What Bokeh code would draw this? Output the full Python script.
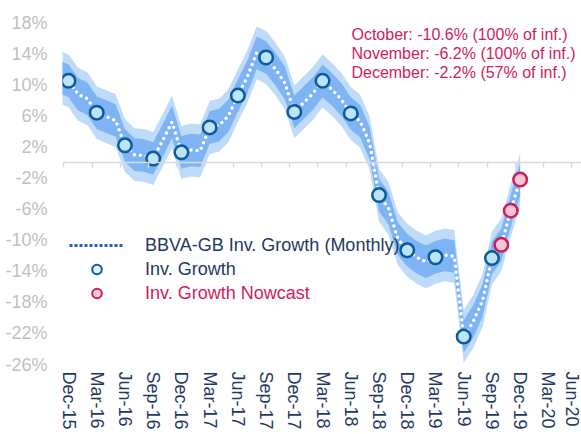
import pandas as pd
from bokeh.plotting import figure
from bokeh.models import FixedTicker, LinearAxis, Legend, LegendItem, Label
from bokeh.embed import file_html
from bokeh.resources import INLINE

# ---------------- data ----------------
months = list(pd.date_range("2015-11-01", periods=50, freq="MS").strftime("%b-%y"))
growth = [
    11.0,                  # Nov-15
    10.5, 8.8, 8.2,        # Dec-15 Jan-16 Feb-16
    6.4, 5.9, 5.4,         # Mar-16 Apr May
    2.2, 1.0, 0.9,         # Jun-16 Jul Aug
    0.5, 2.8, 5.2,         # Sep-16 Oct Nov
    1.3, 1.6, 1.5,         # Dec-16 Jan-17 Feb-17
    4.5, 4.8, 6.0,         # Mar-17 Apr May
    8.6, 11.0, 14.1,       # Jun-17 Jul Aug
    13.5, 12.0, 10.2,      # Sep-17 Oct Nov
    6.5, 7.7, 8.9,         # Dec-17 Jan-18 Feb-18
    10.5, 9.4, 8.1,        # Mar-18 Apr May
    6.3, 5.3, 2.5,         # Jun-18 Jul Aug
    -4.2, -5.9, -9.8,      # Sep-18 Oct Nov
    -11.3, -12.2, -12.8,   # Dec-18 Jan-19 Feb-19
    -12.2, -11.9, -12.1,   # Mar-19 Apr May
    -22.4, -20.5, -17.8,   # Jun-19 Jul Aug
    -12.3, -10.6, -6.2, -2.2,  # Sep-19 Oct Nov Dec
]
actual_months = ["Dec-15", "Mar-16", "Jun-16", "Sep-16", "Dec-16", "Mar-17", "Jun-17",
                 "Sep-17", "Dec-17", "Mar-18", "Jun-18", "Sep-18", "Dec-18", "Mar-19",
                 "Jun-19", "Sep-19"]
nowcast_months = ["Oct-19", "Nov-19", "Dec-19"]
nowcast_values = [-10.6, -6.2, -2.2]
inner_half = 2.1   # half-width of the inner (dark) band, % points
outer_half = 3.4   # half-width of the outer (light) band, % points

quarter_labels = ["Dec-15", "Mar-16", "Jun-16", "Sep-16", "Dec-16", "Mar-17", "Jun-17",
                  "Sep-17", "Dec-17", "Mar-18", "Jun-18", "Sep-18", "Dec-18", "Mar-19",
                  "Jun-19", "Sep-19", "Dec-19", "Mar-20", "Jun-20"]
y_ticks = [-26, -22, -18, -14, -10, -6, -2, 2, 6, 10, 14, 18]

notes = ["October: -10.6% (100% of inf.)",
         "November: -6.2% (100% of inf.)",
         "December: -2.2% (57% of inf.)"]

# ---------------- derived ----------------
midx = {m: i - 1 for i, m in enumerate(months)}          # Dec-15 -> 0
x_all = [midx[m] for m in months]
val = dict(zip(months, growth))
x_act = [midx[m] for m in actual_months]
y_act = [val[m] for m in actual_months]
x_now = [midx[m] for m in nowcast_months]
quarter_x = [3 * i for i in range(len(quarter_labels))]

FONT = "Liberation Sans"
NAVY = "#1f3864"
CRIMSON = "#cf1c5c"

p = figure(width=581, height=434, x_range=(-0.638, 54.52), y_range=(-26.64, 19.29),
           output_backend="svg", toolbar_location=None,
           min_border_left=62, min_border_right=0, min_border_top=12, min_border_bottom=65)
p.outline_line_color = None
p.grid.visible = False
p.background_fill_color = "white"

# bands
p.varea(x=x_all, y1=[v - outer_half for v in growth], y2=[v + outer_half for v in growth],
        fill_color="#bfdbfa")
p.varea(x=x_all, y1=[v - inner_half for v in growth], y2=[v + inner_half for v in growth],
        fill_color="#7fb4f4")
# monthly dotted line
p.line(x=x_all, y=growth, line_color="white", line_width=3.5, line_dash="0 6",
       line_cap="round")
# quarterly points
p.scatter(x=x_act, y=y_act, size=13.5, fill_color="#bde3f7", line_color="#0b5a9e",
          line_width=2.5)
p.scatter(x=x_now, y=nowcast_values, size=13.5, fill_color="#f6c6d6", line_color=CRIMSON,
          line_width=2.5)

# legend-only renderers
nan = float("nan")
lg_line = p.line(x=[nan], y=[nan], line_color="#2563b5", line_width=3, line_dash="3 2")
lg_act = p.scatter(x=[nan], y=[nan], size=11, fill_color="#e4f2fc", line_color="#0b5aa5",
                   line_width=2)
lg_now = p.scatter(x=[nan], y=[nan], size=11, fill_color="#f6c8d8", line_color=CRIMSON,
                   line_width=2)

def make_legend(items, color, loc):
    lg = Legend(items=items, location=loc, orientation="vertical",
                glyph_width=55, glyph_height=24, label_height=24, label_standoff=21,
                spacing=0, padding=0, margin=0,
                background_fill_alpha=0, border_line_alpha=0,
                label_text_font=FONT, label_text_font_size="18px",
                label_text_color=color)
    p.add_layout(lg, "center")

make_legend([LegendItem(label="BBVA-GB Inv. Growth (Monthly)", renderers=[lg_line]),
             LegendItem(label="Inv. Growth", renderers=[lg_act])], NAVY, (7, 88))
make_legend([LegendItem(label="Inv. Growth Nowcast", renderers=[lg_now])], CRIMSON, (7, 64))

# annotation
for i, t in enumerate(notes):
    p.add_layout(Label(x=30.07, y=16.45, y_offset=-19 * i, text=t, text_font=FONT,
                       text_font_size="16px", text_color=CRIMSON, text_align="left",
                       text_baseline="middle"))

# y axis
p.yaxis.ticker = FixedTicker(ticks=y_ticks)
p.yaxis.major_label_overrides = {t: f"{t}%" for t in y_ticks}
p.yaxis.axis_line_color = None
p.yaxis.major_tick_line_color = None
p.yaxis.minor_tick_line_color = None
p.yaxis.major_tick_out = 0
p.yaxis.major_tick_in = 0
p.yaxis.major_label_standoff = 15
p.yaxis.major_label_text_font = FONT
p.yaxis.major_label_text_font_size = "18px"
p.yaxis.major_label_text_color = "#bfbfbf"

# x axis (labels only, bottom)
p.xaxis.ticker = FixedTicker(ticks=quarter_x)
p.xaxis.major_label_overrides = {x: l for x, l in zip(quarter_x, quarter_labels)}
p.xaxis.major_label_orientation = "vertical"
p.xaxis.axis_line_color = None
p.xaxis.major_tick_line_color = None
p.xaxis.minor_tick_line_color = None
p.xaxis.major_tick_out = 0
p.xaxis.major_tick_in = 0
p.xaxis.major_label_standoff = 2
p.xaxis.major_label_text_font = FONT
p.xaxis.major_label_text_font_size = "18px"
p.xaxis.major_label_text_color = NAVY

# zero line with tick marks
zero_ticks = [q - 0.5 for q in quarter_x]
zax = LinearAxis(fixed_location=0, ticker=FixedTicker(ticks=zero_ticks),
                 major_label_overrides={t: "" for t in zero_ticks},
                 axis_line_color="#d9d9d9", axis_line_width=1.5,
                 major_tick_line_color="#d9d9d9", major_tick_line_width=1.5,
                 major_tick_in=5, major_tick_out=0, minor_tick_line_color=None,
                 major_label_standoff=0, major_label_text_font_size="1px")
p.add_layout(zax, "above")

open("out.html", "w").write(file_html(p, INLINE))
